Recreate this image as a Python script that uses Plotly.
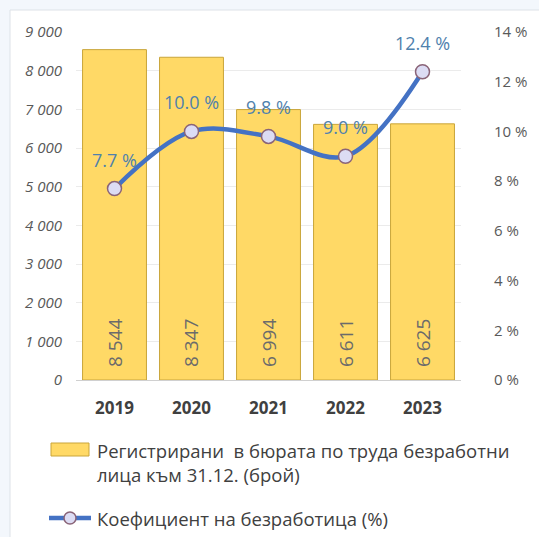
import plotly.graph_objects as go

# Data
years = ["2019", "2020", "2021", "2022", "2023"]
registered = [8544, 8347, 6994, 6611, 6625]
rate = [7.7, 10.0, 9.8, 9.0, 12.4]

bar_name = "Регистрирани в бюрата по труда безработни лица към 31.12. (брой)"
line_name = "Коефициент на безработица (%)"

left_ticks = [0, 1000, 2000, 3000, 4000, 5000, 6000, 7000, 8000, 9000]
right_ticks = [0, 2, 4, 6, 8, 10, 12, 14]

W, H = 539, 537
L, R, T, B = 76, 461, 32, 380  # plot area in pixels

FONT = "Open Sans"
BAR_FILL = "#FFD966"
BAR_EDGE = "#C9A53A"
LINE_BLUE = "#4472C4"
LABEL_BLUE = "#4F81AD"

xpos = list(range(len(years)))


def fmt_int(v):
    return f"{v:,}".replace(",", "\u00a0")


def px(x):
    return (x - L) / (R - L)


def py(y):
    return (B - y) / (B - T)


fig = go.Figure()

fig.add_trace(go.Bar(
    x=xpos, y=registered, name=bar_name,
    marker=dict(color=BAR_FILL, line=dict(color=BAR_EDGE, width=1)),
    text=["\u00a0\u00a0" + fmt_int(v) for v in registered],
    textposition="inside", insidetextanchor="start", textangle=-90,
    textfont=dict(family=FONT, size=19, color="#6b6b6b"),
    width=0.83, showlegend=False, hoverinfo="skip",
))

fig.add_trace(go.Scatter(
    x=xpos, y=rate, name=line_name, yaxis="y2", mode="lines+markers",
    line=dict(color=LINE_BLUE, width=4.5, shape="spline", smoothing=1),
    marker=dict(size=14, color="#DCDCF4", line=dict(color="#8A6478", width=1.5)),
    showlegend=False, hoverinfo="skip",
))

annotations = []
for i, r in zip(xpos, rate):
    annotations.append(dict(
        x=i, y=r, xref="x", yref="y2", text=f"{r:.1f} %", showarrow=False,
        yshift=29, font=dict(family=FONT, size=18, color=LABEL_BLUE),
    ))

# legend built by hand
shapes = [
    dict(type="rect", xref="paper", yref="paper", layer="below",
         x0=px(10), x1=px(545), y0=py(10), y1=py(545),
         fillcolor="white", line=dict(color="#DDE2E8", width=1)),
    dict(type="rect", xref="paper", yref="paper",
         x0=px(51), x1=px(89), y0=py(456), y1=py(443),
         fillcolor=BAR_FILL, line=dict(color=BAR_EDGE, width=1)),
    dict(type="line", xref="paper", yref="paper",
         x0=px(49), x1=px(91), y0=py(518), y1=py(518),
         line=dict(color=LINE_BLUE, width=4.5)),
    dict(type="circle", xref="paper", yref="paper",
         x0=px(64), x1=px(76), y0=py(524), y1=py(512),
         fillcolor="#DCDCF4", line=dict(color="#8A6478", width=1.5)),
]
legend_lines = [
    ("Регистрирани  в бюрата по труда безработни", 450),
    ("лица към 31.12. (брой)", 474),
    (line_name, 518),
]
for txt, yy in legend_lines:
    annotations.append(dict(
        x=px(95), y=py(yy), xref="paper", yref="paper", text=txt,
        showarrow=False, xanchor="left", yanchor="middle",
        font=dict(family=FONT, size=18.5, color="#404040"),
    ))

fig.update_layout(
    width=W, height=H,
    margin=dict(l=L, r=W - R, t=T, b=H - B),
    paper_bgcolor="#F3F7FC", plot_bgcolor="white",
    font=dict(family=FONT),
    xaxis=dict(
        range=[-0.5, len(years) - 0.5], tickvals=xpos, ticktext=years,
        showgrid=False, showline=False, ticks="", zeroline=False,
        tickfont=dict(family=FONT, size=17, color="#404040", weight="bold"),
        ticklabelstandoff=16,
    ),
    yaxis=dict(
        range=[0, 9000], tickvals=left_ticks,
        ticktext=[fmt_int(v) for v in left_ticks],
        showgrid=True, gridcolor="#EBEBEB", gridwidth=1,
        zeroline=True, zerolinecolor="#D0D0D0", zerolinewidth=1,
        showline=False, ticks="",
        tickfont=dict(family=FONT, size=15, color="#595959", style="italic"),
        ticklabelstandoff=13,
    ),
    yaxis2=dict(
        range=[0, 14], tickvals=right_ticks,
        ticktext=[f"{v} %" for v in right_ticks],
        overlaying="y", side="right", showgrid=False, zeroline=False,
        showline=False, ticks="",
        tickfont=dict(family=FONT, size=15, color="#595959"),
        ticklabelstandoff=32,
    ),
    shapes=shapes,
    annotations=annotations,
)

fig.write_html("out.html")
